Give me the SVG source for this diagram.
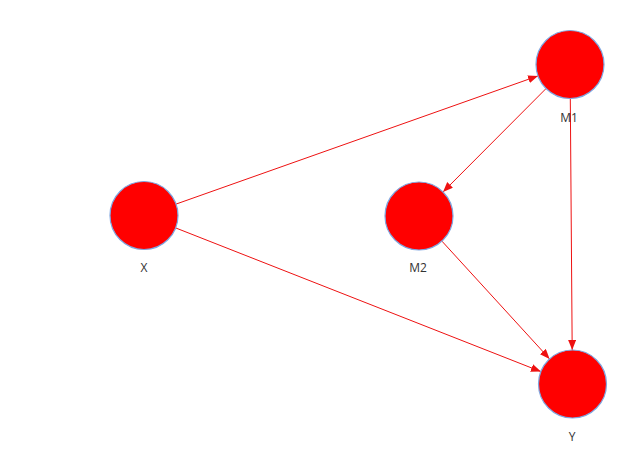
<svg xmlns="http://www.w3.org/2000/svg" width="628" height="449" viewBox="0 0 628 449">
<style>
.node{fill:#ff0000;stroke:#7ea6e0;stroke-width:1.2}
.lbl{font-family:"Open Sans","Liberation Sans",sans-serif;font-size:12px;fill:#333;text-anchor:middle}
.edge{stroke:#ee1111;stroke-width:1;fill:none;marker-end:url(#arr)}
</style>
<defs>
<marker id="arr" markerUnits="userSpaceOnUse" markerWidth="11" markerHeight="9" refX="10" refY="4" orient="auto">
<path d="M0,0 L10,4 L0,8 z" fill="#ee1111"/>
</marker>
</defs>
<rect width="628" height="449" fill="#fff"/>
<g id="connectors">
<line class="edge" x1="176" y1="204.1" x2="538" y2="75.9"/>
<line class="edge" x1="175.6" y1="227.9" x2="540.9" y2="371.6"/>
<line class="edge" x1="546" y1="88.6" x2="443" y2="192"/>
<line class="edge" x1="570.3" y1="98.5" x2="572.2" y2="350"/>
<line class="edge" x1="441.9" y1="241.1" x2="549.6" y2="358.9"/>
</g>
<g id="X"><circle class="node" cx="144" cy="215.5" r="34"/><text class="lbl" x="144" y="272">X</text></g>
<g id="M1"><circle class="node" cx="570" cy="64.5" r="34"/><text class="lbl" x="569" y="122">M1</text></g>
<g id="M2"><circle class="node" cx="419" cy="216" r="34"/><text class="lbl" x="418" y="272">M2</text></g>
<g id="Y"><circle class="node" cx="572.5" cy="384" r="34"/><text class="lbl" x="572" y="441">Y</text></g>
</svg>
